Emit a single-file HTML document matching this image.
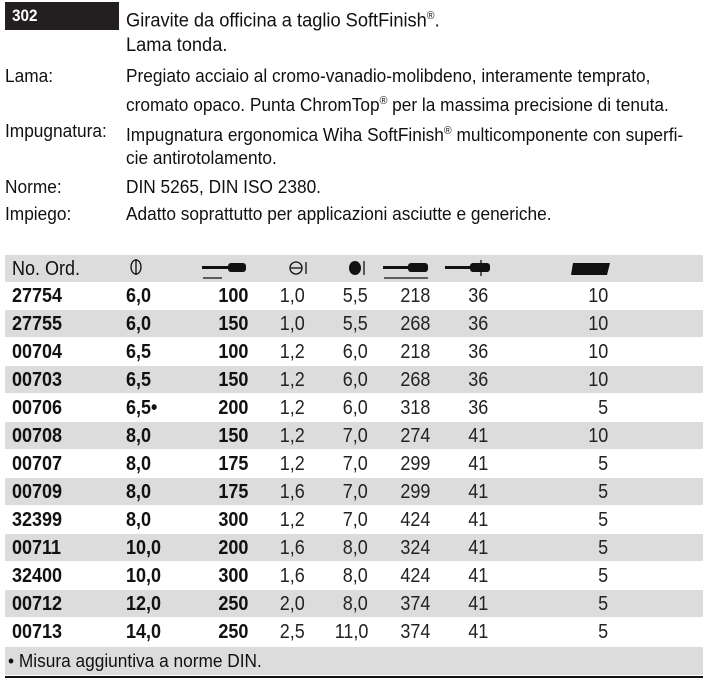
<!DOCTYPE html><html><head><style>
body{margin:0;width:711px;height:685px;background:#fff;position:relative;overflow:hidden;font-family:"Liberation Sans",sans-serif;color:#111}
.t{position:absolute;white-space:nowrap;font-size:18px;line-height:20px;transform:scaleX(.96);transform-origin:left center}
.n{font-size:20px;line-height:20px}
.r{transform-origin:right center;text-align:right;transform:scaleX(.9)}
.b{font-weight:bold;transform:scaleX(.9)}
.l{font-weight:normal;color:#222}
.g{position:absolute;left:5px;width:698px;background:#dcdcdc}
</style></head><body>
<div style="position:absolute;left:5px;top:2px;width:114px;height:28px;background:#231f20"></div>
<div class="t b" style="left:12px;top:6px;color:#fff;font-size:17px">302</div>
<div class="t" style="left:126px;top:6px;font-size:19px">Giravite da officina a taglio SoftFinish<sup style="font-size:11px">®</sup>.</div>
<div class="t" style="left:126px;top:36px;font-size:19px">Lama tonda.</div>
<div class="t" style="left:5px;top:66px">Lama:</div>
<div class="t" style="left:126px;top:66px">Pregiato acciaio al cromo-vanadio-molibdeno, interamente temprato,</div>
<div class="t" style="left:126px;top:91px">cromato opaco. Punta ChromTop<sup style="font-size:11px">®</sup> per la massima precisione di tenuta.</div>
<div class="t" style="left:5px;top:121px">Impugnatura:</div>
<div class="t" style="left:126px;top:121px">Impugnatura ergonomica Wiha SoftFinish<sup style="font-size:11px">®</sup> multicomponente con superfi-</div>
<div class="t" style="left:126px;top:148px">cie antirotolamento.</div>
<div class="t" style="left:5px;top:177px">Norme:</div>
<div class="t" style="left:126px;top:177px">DIN 5265, DIN ISO 2380.</div>
<div class="t" style="left:5px;top:204px">Impiego:</div>
<div class="t" style="left:126px;top:204px">Adatto soprattutto per applicazioni asciutte e generiche.</div>
<div class="g" style="top:255px;height:27px"></div>
<div style="position:absolute;left:5px;width:698px;top:282px;height:364px;background:repeating-linear-gradient(to bottom,#fff 0px,#fff 28px,#dcdcdc 28px,#dcdcdc 55px,#fff 55px,#fff 56px)"></div>
<div class="t n" style="left:12px;top:259px;transform:scaleX(.9)">No. Ord.</div>
<svg style="position:absolute;left:0;top:255px" width="711" height="28">
<g fill="none" stroke="#111" stroke-width="1.3"><ellipse cx="136" cy="12" rx="5" ry="7"/><line x1="136" y1="4" x2="136" y2="20"/>
<ellipse cx="296" cy="13" rx="6" ry="6"/><line x1="290" y1="13" x2="302" y2="13"/><line x1="306" y1="7" x2="306" y2="19"/>
<line x1="364" y1="6" x2="364" y2="20"/>
<line x1="203" y1="23" x2="222" y2="23"/><line x1="384" y1="23" x2="428" y2="23"/><line x1="481" y1="5" x2="481" y2="9"/><line x1="481" y1="17" x2="481" y2="21"/></g>
<g fill="#111"><rect x="202" y="11" width="26" height="3"/><rect x="228" y="8" width="18" height="9" rx="3"/>
<ellipse cx="355" cy="13" rx="6" ry="7"/>
<rect x="383" y="11" width="25" height="3"/><rect x="408" y="8" width="20" height="9" rx="3"/>
<rect x="445" y="11" width="25" height="3"/><rect x="470" y="8" width="20" height="9" rx="3"/>
<polygon points="573,8 610,8 607,20 571,20"/></g></svg>
<div id="rows"></div>
<div class="g" style="top:647px;height:28px"></div>
<div class="t" style="left:8px;top:651px;font-size:18px">• Misura aggiuntiva a norme DIN.</div>
<div style="position:absolute;left:5px;top:676px;width:698px;height:2px;background:#111"></div>
<script>
var d=[["27754","6,0","100","1,0","5,5","218","36","10"],["27755","6,0","150","1,0","5,5","268","36","10"],["00704","6,5","100","1,2","6,0","218","36","10"],["00703","6,5","150","1,2","6,0","268","36","10"],["00706","6,5•","200","1,2","6,0","318","36","5"],["00708","8,0","150","1,2","7,0","274","41","10"],["00707","8,0","175","1,2","7,0","299","41","5"],["00709","8,0","175","1,6","7,0","299","41","5"],["32399","8,0","300","1,2","7,0","424","41","5"],["00711","10,0","200","1,6","8,0","324","41","5"],["32400","10,0","300","1,6","8,0","424","41","5"],["00712","12,0","250","2,0","8,0","374","41","5"],["00713","14,0","250","2,5","11,0","374","41","5"]];
var h="",rx=[248,305,368,430,488,608];
d.forEach(function(r,i){var y=282+28*i;
var ty=y+4;h+='<div class="t n b" style="left:12px;top:'+ty+'px">'+r[0]+'</div><div class="t n b" style="left:126px;top:'+ty+'px">'+r[1]+'</div>';
for(var k=2;k<8;k++){h+='<div class="t n r '+(k==2?'b':'l')+'" style="right:'+(711-rx[k-2])+'px;top:'+ty+'px;transform-origin:right center">'+r[k]+'</div>';}});
document.getElementById("rows").innerHTML=h;
</script>
</body></html>
